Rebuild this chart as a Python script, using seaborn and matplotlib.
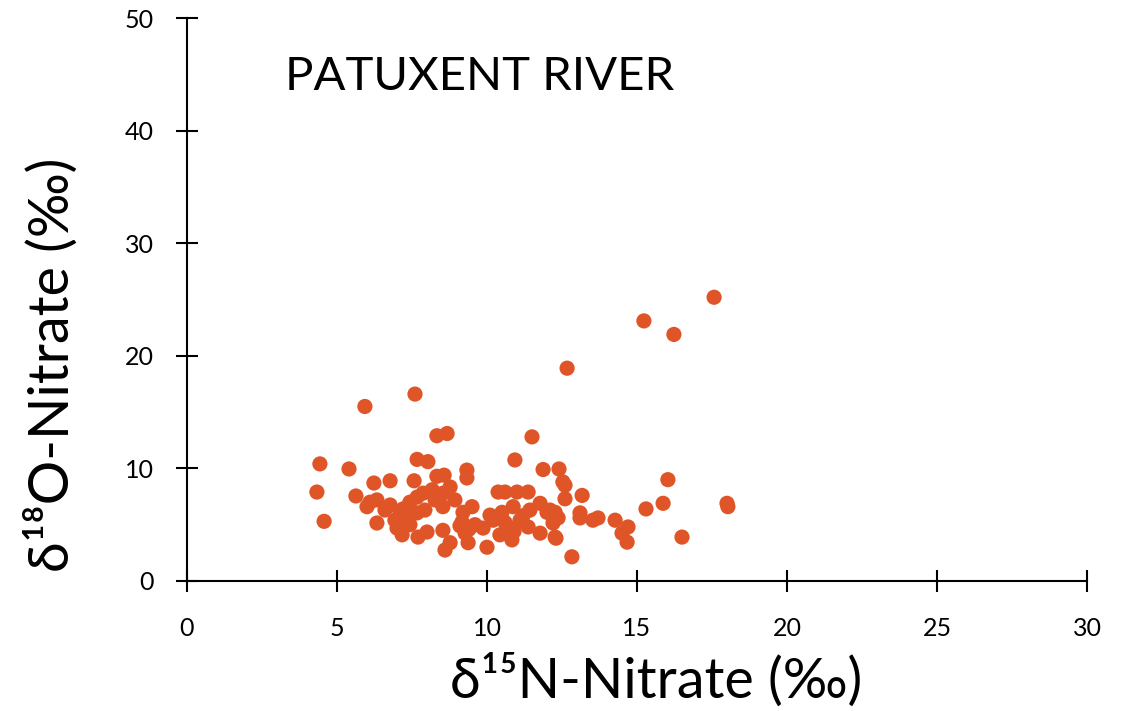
import matplotlib
matplotlib.use("Agg")
import matplotlib.pyplot as plt
import seaborn as sns
import pandas as pd

# Data (δ15N, δ18O of nitrate, ‰)
d15N = [17.57, 15.23, 16.23, 12.67, 7.60, 5.93, 8.67, 8.33, 11.50, 4.43,
        5.40, 7.67, 8.03, 10.93, 11.87, 12.40, 9.33, 9.33, 8.33, 4.33,
        4.57, 5.63, 6.23, 6.77, 7.57, 16.03, 15.87, 15.30, 18.00, 18.03,
        16.50, 14.70, 14.27, 14.50, 14.67, 12.83, 12.53, 12.60, 13.17, 13.70,
        13.53, 13.10, 13.10, 12.60, 12.30, 12.27, 12.37, 12.10, 11.77, 11.37,
        11.00, 10.60, 10.87, 10.50, 11.43, 12.00, 11.10, 10.70, 11.37, 11.77,
        12.27, 12.20, 10.20, 9.87, 10.00, 9.37, 9.27, 9.17, 9.20, 9.50,
        8.77, 8.60, 8.53, 8.53, 8.53, 8.77, 8.57, 8.17, 7.87, 7.67,
        7.43, 6.77, 6.10, 6.00, 6.33, 7.10, 7.33, 7.67, 7.00, 7.17,
        7.43, 7.70, 8.00, 6.33, 10.37, 6.60, 6.93, 7.93, 8.27, 8.93,
        10.43, 10.83, 9.60, 10.10, 9.40, 10.60, 10.90, 9.10, 11.20, 7.20]
d18O = [25.2, 23.1, 21.9, 18.9, 16.6, 15.5, 13.1, 12.9, 12.8, 10.4,
        9.95, 10.8, 10.6, 10.75, 9.9, 9.95, 9.85, 9.15, 9.3, 7.9,
        5.3, 7.55, 8.7, 8.9, 8.9, 9.0, 6.9, 6.4, 6.9, 6.6,
        3.9, 4.8, 5.4, 4.25, 3.45, 2.15, 8.8, 8.5, 7.6, 5.6,
        5.4, 6.05, 5.6, 7.3, 3.8, 6.1, 5.6, 6.3, 6.9, 7.9,
        7.9, 7.9, 6.6, 6.1, 6.3, 6.1, 5.4, 4.8, 4.8, 4.25,
        3.9, 5.15, 5.4, 4.7, 3.0, 3.4, 4.25, 5.25, 6.1, 6.6,
        3.4, 2.75, 4.5, 6.6, 7.8, 8.35, 9.4, 8.1, 7.8, 7.45,
        7.0, 6.75, 7.0, 6.6, 5.15, 6.05, 5.7, 6.05, 4.7, 4.1,
        5.0, 3.9, 4.35, 7.2, 7.9, 6.3, 5.4, 6.3, 7.2, 7.2,
        4.1, 3.65, 5.0, 5.85, 4.6, 5.2, 4.4, 4.9, 5.8, 6.4]

x_ticks = [0, 5, 10, 15, 20, 25, 30]
y_ticks = [0, 10, 20, 30, 40, 50]
title_text = "PATUXENT RIVER"
x_label = "δ¹⁵N-Nitrate (‰)"
y_label = "δ¹⁸O-Nitrate (‰)"

df = pd.DataFrame({"d15N": d15N, "d18O": d18O})

sns.set_style("white")
plt.rcParams["font.family"] = ["Lato", "DejaVu Sans"]

fig = plt.figure(figsize=(11.32, 7.11), dpi=100)
ax = fig.add_axes([187/1132, 1 - 581/711, 900/1132, 563/711])

sns.scatterplot(data=df, x="d15N", y="d18O", ax=ax, color="#E05528",
                s=120, edgecolor="none", linewidth=0, legend=False)

ax.set_xlim(0, 30)
ax.set_ylim(0, 50)
ax.set_xticks(x_ticks)
ax.set_yticks(y_ticks)
ax.set_xticklabels([str(t) for t in x_ticks], fontsize=18)
ax.set_yticklabels([str(t) for t in y_ticks], fontsize=18)

for side in ["top", "right"]:
    ax.spines[side].set_visible(False)
for side in ["left", "bottom"]:
    ax.spines[side].set_color("black")
    ax.spines[side].set_linewidth(1.5)

ax.tick_params(axis="both", which="major", bottom=True, left=True,
               direction="inout", length=16, width=1.5,
               color="black", labelcolor="black")
ax.tick_params(axis="x", pad=18)
ax.tick_params(axis="y", pad=16)

ax.set_xlabel(x_label, fontsize=40, color="black")
ax.set_ylabel(y_label, fontsize=40, color="black")
ax.xaxis.set_label_coords((656 - 187) / 900, -(681 - 581) / 563)
ax.yaxis.set_label_coords(-(187 - 52) / 900, (581 - 365) / 563)
ax.xaxis.label.set_va("center")
ax.yaxis.label.set_va("center")

ax.text((480 - 187) / 900, (581 - 77) / 563, title_text, transform=ax.transAxes,
        fontsize=34, ha="center", va="center", color="black")

fig.savefig("out.png", dpi=100)
